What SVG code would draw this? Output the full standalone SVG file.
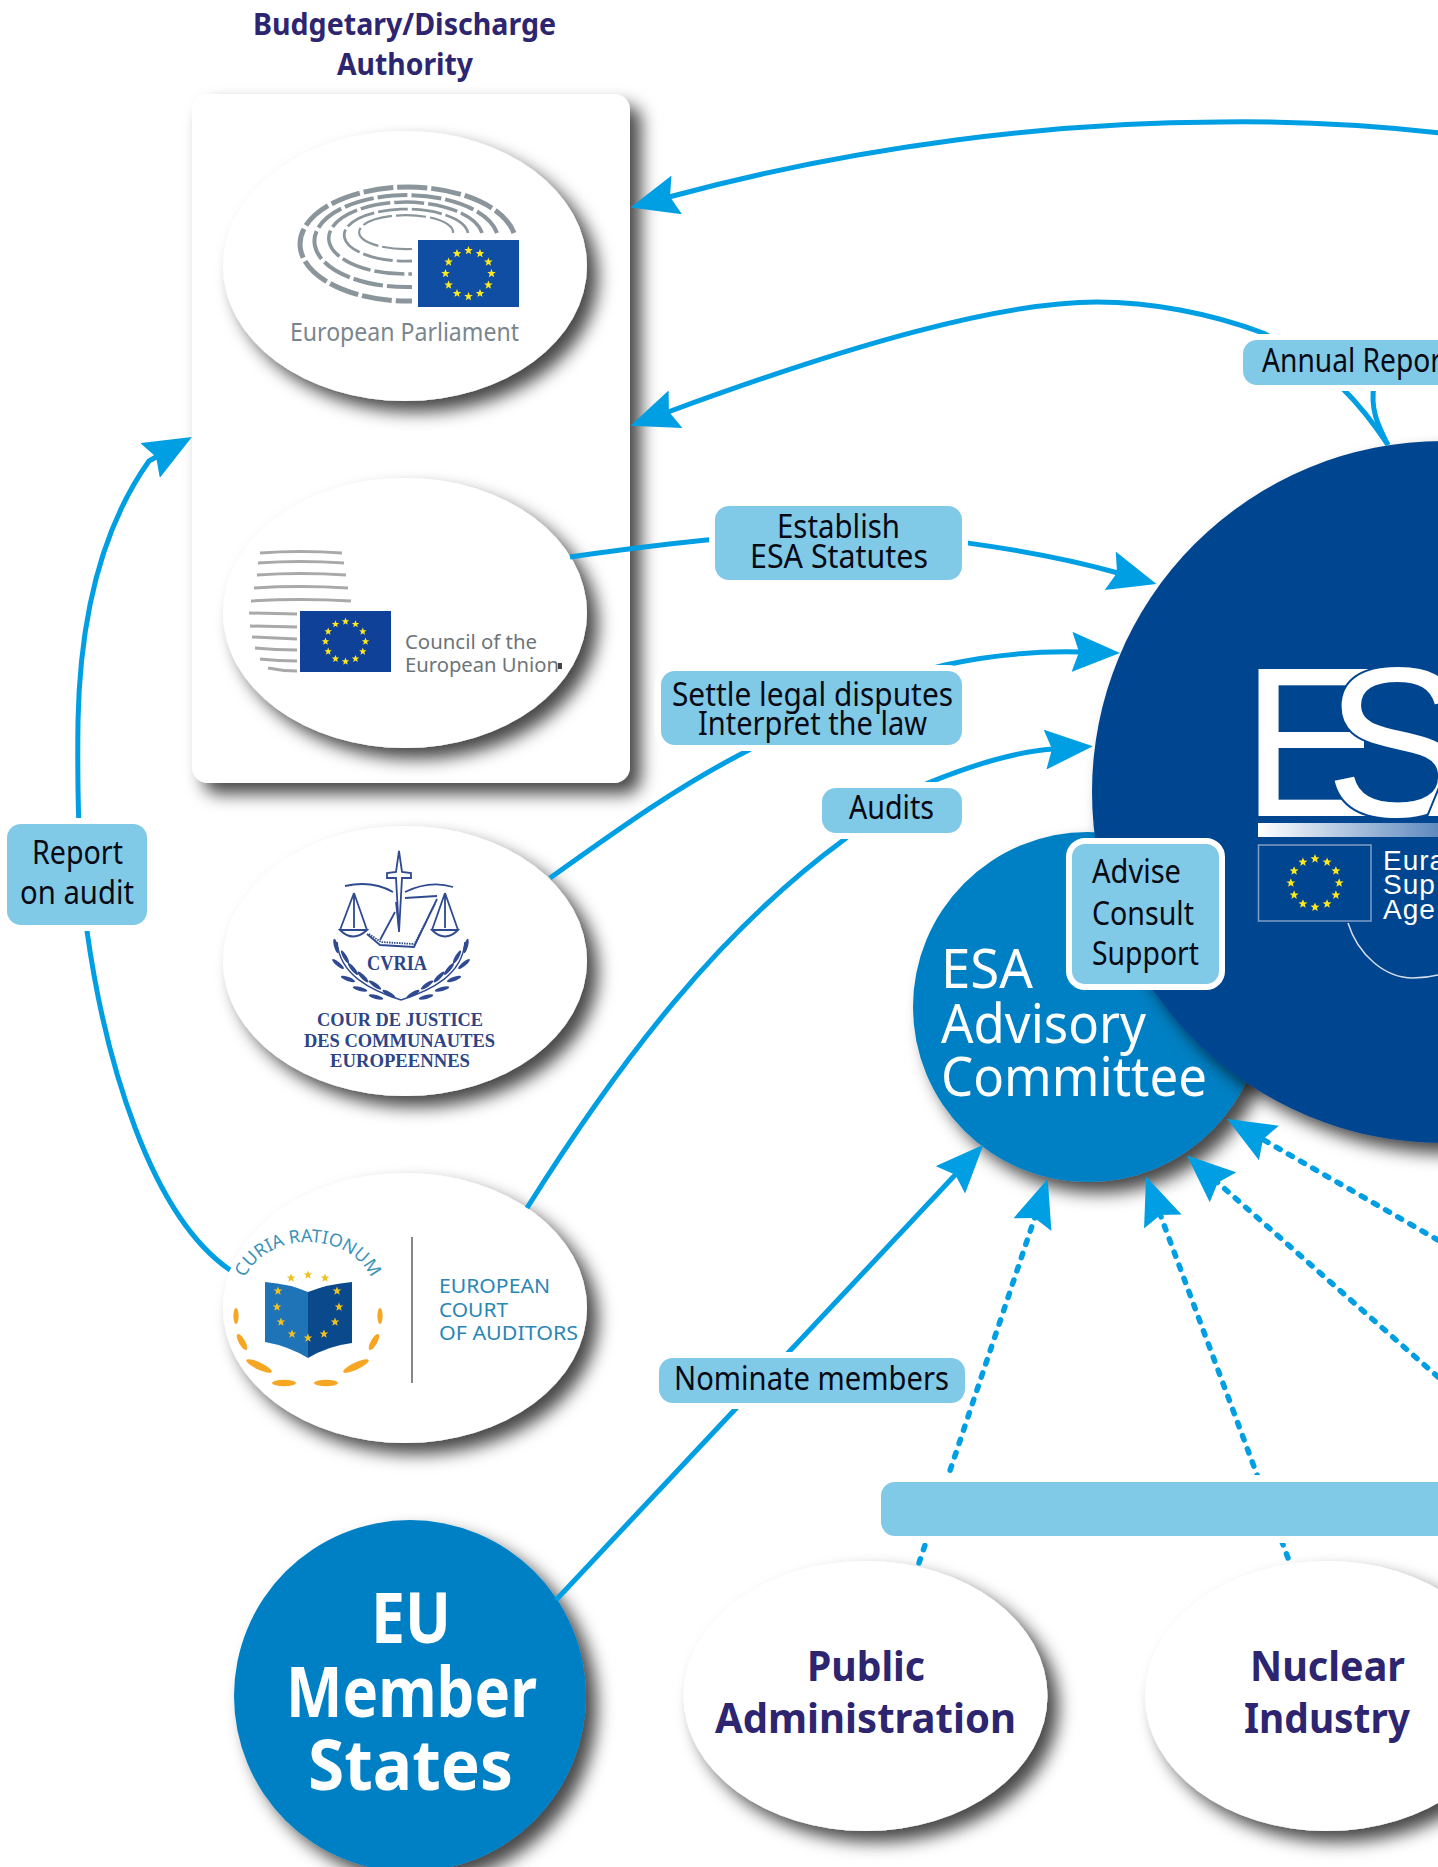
<svg xmlns="http://www.w3.org/2000/svg" xmlns:xlink="http://www.w3.org/1999/xlink" width="1438" height="1867" viewBox="0 0 1438 1867">
<style>
text{font-family:"Noto Sans","Open Sans",sans-serif}
.conn{fill:none;stroke:#009fe3;stroke-width:5}
.arr{marker-end:url(#head)}
.dot{stroke-dasharray:4.5 9.5;stroke-linecap:round;stroke-width:5.5}
.lab{fill:#80c9e7;stroke:#fff;stroke-width:12;paint-order:stroke}
.lt{font-size:32px;fill:#0a0a14}
.shadow{filter:url(#sh)}
.white{fill:#fff}
.navy{font-weight:700;fill:#2d2570}
.eu{font-size:70px;font-weight:700;fill:#fff}
.org{font-size:41px}
.adv{font-size:55px;fill:#fff}
.seat{fill:none;stroke:#8a969c;stroke-dasharray:30 4}
.stripe{fill:none;stroke:#a9a9a9;stroke-width:3}
.cj{font-family:"Liberation Serif",serif;font-weight:700;fill:#2d4486}
.cl{fill:none;stroke:#2f4a91;stroke-width:1.8}
.leaf{fill:#2f4a91}
.orange{fill:#f5a623}
.eca{font-size:20px;fill:#2a86b6}
.ly{fill:#ffe81e}
</style>
<defs>
<filter id="sh" x="-20%" y="-20%" width="140%" height="140%">
<feDropShadow dx="11" dy="11" stdDeviation="8.500" flood-color="#000" flood-opacity="0.72"/>
</filter>
<marker id="head" markerUnits="userSpaceOnUse" markerWidth="48" markerHeight="40" viewBox="0 0 48 40" refX="8" refY="20" orient="auto">
<path d="M48,20 L0,0 L7,20 L0,40 Z" fill="#009fe3"/>
</marker>
<linearGradient id="barg" x1="0" x2="1" y1="0" y2="0"><stop offset="0" stop-color="#fff"/><stop offset="1" stop-color="#5f8abf"/></linearGradient>
<polygon id="s" points="0,-4.500 1.200,-1.500 4.300,-1.400 1.800,.560 2.650,3.650 0,1.900 -2.650,3.650 -1.800,.560 -4.300,-1.400 -1.200,-1.500"/>
<g id="ring" class="ly">
<use href="#s" x="0" y="-23"/><use href="#s" x="11.500" y="-19.900"/><use href="#s" x="19.900" y="-11.500"/><use href="#s" x="23" y="0"/><use href="#s" x="19.900" y="11.500"/><use href="#s" x="11.500" y="19.900"/><use href="#s" x="0" y="23"/><use href="#s" x="-11.500" y="19.900"/><use href="#s" x="-19.900" y="11.500"/><use href="#s" x="-23" y="0"/><use href="#s" x="-19.900" y="-11.500"/><use href="#s" x="-11.500" y="-19.900"/>
</g>
<g id="laurel" class="leaf">
<ellipse cx="336" cy="946" rx="7.500" ry="2" transform="rotate(75 336 946)"/>
<ellipse cx="345" cy="957" rx="7.500" ry="2" transform="rotate(60 345 957)"/>
<ellipse cx="338" cy="964" rx="7.500" ry="2" transform="rotate(40 338 964)"/>
<ellipse cx="353" cy="969" rx="7.500" ry="2" transform="rotate(50 353 969)"/>
<ellipse cx="348" cy="979" rx="7.500" ry="2" transform="rotate(20 348 979)"/>
<ellipse cx="363" cy="977" rx="7.500" ry="2" transform="rotate(45 363 977)"/>
<ellipse cx="360" cy="989" rx="7.500" ry="2" transform="rotate(15 360 989)"/>
<ellipse cx="375" cy="985" rx="7.500" ry="2" transform="rotate(35 375 985)"/>
<ellipse cx="376" cy="997" rx="7.500" ry="2" transform="rotate(15 376 997)"/>
<ellipse cx="389" cy="994" rx="7.500" ry="2" transform="rotate(30 389 994)"/>
<path d="M337,942 C340,975 370,990 401,1000" fill="none" stroke="#2f4a91" stroke-width="1.500"/>
</g>
</defs>
<rect width="1438" height="1867" fill="#fff"/>

<g id="authority-title">
<text class="navy" x="253" y="35" font-size="30" textLength="303" lengthAdjust="spacingAndGlyphs">Budgetary/Discharge</text>
<text class="navy" x="337" y="75" font-size="30" textLength="136" lengthAdjust="spacingAndGlyphs">Authority</text>
</g>

<g id="authority-card"><rect class="white shadow" x="192" y="94" width="438" height="689" rx="16"/></g>

<g id="european-parliament">
<ellipse class="white shadow" cx="405" cy="266" rx="182" ry="135"/>
<path class="seat" stroke-width="5" d="M514,233 A108,57 0 1 0 412,301"/>
<path class="seat" stroke-width="4" d="M497,233 A92,46 0 1 0 412,287"/>
<path class="seat" stroke-width="3.500" d="M482,233 A77,36 0 1 0 412,274"/>
<path class="seat" stroke-width="2.800" d="M468,233 A62,26 0 1 0 412,261"/>
<path class="seat" stroke-width="2.200" d="M453,233 A47,17 0 1 0 412,249"/>
<rect x="418" y="240" width="101" height="67" fill="#0f4ea3"/>
<use href="#ring" transform="translate(468.500,273.500)"/>
<text x="290" y="341" font-size="26" fill="#7a868d" textLength="229" lengthAdjust="spacingAndGlyphs">European Parliament</text>
</g>

<g id="council">
<ellipse class="white shadow" cx="405" cy="613" rx="182" ry="135"/>
<path class="stripe" d="M260,553 Q300,550 342,553"/>
<path class="stripe" d="M258,563 Q300,560 344,563"/>
<path class="stripe" d="M257,575 Q300,572 346,575"/>
<path class="stripe" stroke-width="3.500" d="M254,588 Q300,585 348,588"/>
<path class="stripe" stroke-width="4" d="M251,601 Q300,598 351,601"/>
<path class="stripe" stroke-width="3.500" d="M249,613 L297,614"/>
<path class="stripe" stroke-width="3.500" d="M250,626 L297,627"/>
<path class="stripe" d="M252,637 L297,639"/>
<path class="stripe" d="M255,648 Q275,650 297,650"/>
<path class="stripe" stroke-width="2.500" d="M260,659 Q278,661 297,661"/>
<path class="stripe" stroke-width="2" d="M268,668 Q282,671 297,671"/>
<rect x="300" y="611" width="91" height="61" fill="#0f4198"/>
<use href="#ring" transform="translate(345.500,641.500) scale(.87)"/>
<text x="405" y="649" font-size="20" fill="#6d7478" textLength="132" lengthAdjust="spacingAndGlyphs">Council of the</text>
<text x="405" y="672" font-size="20" fill="#6d7478" textLength="154" lengthAdjust="spacingAndGlyphs">European Union</text>
<rect x="558" y="663" width="4" height="6" fill="#444"/>
</g>

<g id="court-of-justice">
<ellipse class="white shadow" cx="405" cy="961" rx="182" ry="135"/>
<path d="M399,851 L402,872 L411,873 L411,878 L402,878 L399,932 L396,878 L387,878 L387,873 L396,872 Z" fill="#fff" stroke="#2f4a91" stroke-width="1.800"/>
<path class="cl" stroke-width="2.400" d="M345,886 Q372,880 393,892 M405,892 Q430,880 453,887 M405,898 L437,896"/>
<path class="cl" d="M354,893 L340,930 M354,893 L367,930 M354,893 L354,928 M340,930 Q353,943 367,930 Z"/>
<path class="cl" d="M445,893 L432,930 M445,893 L458,930 M445,893 L445,928 M432,930 Q445,943 458,930 Z"/>
<path class="cl" d="M367,934 L380,945 L414,947 L437,899 M380,940 L395,912 M396,902 L399,930"/>
<path class="cl" stroke-width="4" stroke-dasharray="1.500 1" d="M414,945 L435,904 M369,934 L381,942 L414,944"/>
<use href="#laurel"/>
<use href="#laurel" transform="translate(802,0) scale(-1,1)"/>
<text class="cj" x="367" y="970" font-size="22" textLength="60" lengthAdjust="spacingAndGlyphs">CVRIA</text>
<text class="cj" x="317" y="1026" font-size="18" textLength="166" lengthAdjust="spacingAndGlyphs">COUR DE JUSTICE</text>
<text class="cj" x="304" y="1047" font-size="18" textLength="191" lengthAdjust="spacingAndGlyphs">DES COMMUNAUTES</text>
<text class="cj" x="330" y="1067" font-size="18" textLength="140" lengthAdjust="spacingAndGlyphs">EUROPEENNES</text>
</g>

<g id="court-of-auditors">
<ellipse class="white shadow" cx="405" cy="1308" rx="182" ry="135"/>
<path id="curia" d="M241,1296 A67,54 0 0 1 375,1296" fill="none"/>
<text font-size="18" fill="#3a92b8"><textPath href="#curia" startOffset="50%" text-anchor="middle">CURIA RATIONUM</textPath></text>
<path d="M265,1282 Q290,1284 308,1292 L308,1358 Q288,1346 265,1342 Z" fill="#1f74b8"/>
<path d="M352,1282 Q328,1284 308,1292 L308,1358 Q328,1346 352,1343 Z" fill="#0a4a8c"/>
<g fill="#f0c020">
<use href="#s" x="278" y="1291"/><use href="#s" x="277" y="1307"/><use href="#s" x="281" y="1322"/><use href="#s" x="292" y="1334"/><use href="#s" x="308" y="1338"/><use href="#s" x="324" y="1334"/><use href="#s" x="335" y="1322"/><use href="#s" x="339" y="1307"/><use href="#s" x="337" y="1291"/>
<use href="#s" x="291" y="1278"/><use href="#s" x="308" y="1275"/><use href="#s" x="325" y="1278"/>
</g>
<g class="orange">
<ellipse cx="236" cy="1316" rx="2.600" ry="8"/>
<ellipse cx="242" cy="1342" rx="9" ry="3.200" transform="rotate(60 242 1342)"/>
<ellipse cx="259" cy="1366" rx="14" ry="3.600" transform="rotate(25 259 1366)"/>
<ellipse cx="284" cy="1383" rx="12" ry="3.200"/>
<ellipse cx="326" cy="1383" rx="12" ry="3.200"/>
<ellipse cx="356" cy="1366" rx="14" ry="3.600" transform="rotate(-25 356 1366)"/>
<ellipse cx="374" cy="1342" rx="9" ry="3.200" transform="rotate(-60 374 1342)"/>
<ellipse cx="380" cy="1316" rx="2.600" ry="8"/>
</g>
<path d="M412,1237 L412,1383" stroke="#888" stroke-width="2"/>
<text class="eca" x="439" y="1293" textLength="111" lengthAdjust="spacingAndGlyphs">EUROPEAN</text>
<text class="eca" x="439" y="1317" textLength="69" lengthAdjust="spacingAndGlyphs">COURT</text>
<text class="eca" x="439" y="1340" textLength="139" lengthAdjust="spacingAndGlyphs">OF AUDITORS</text>
</g>

<g id="member-states">
<circle cx="410" cy="1696" r="176" fill="#0080c4" class="shadow"/>
<text class="eu" x="371" y="1643" textLength="80" lengthAdjust="spacingAndGlyphs">EU</text>
<text class="eu" x="286" y="1717" textLength="251" lengthAdjust="spacingAndGlyphs">Member</text>
<text class="eu" x="308" y="1790" textLength="205" lengthAdjust="spacingAndGlyphs">States</text>
</g>

<g id="public-administration">
<ellipse class="white shadow" cx="865.500" cy="1696" rx="182" ry="135"/>
<text class="navy org" x="807" y="1681" textLength="118" lengthAdjust="spacingAndGlyphs">Public</text>
<text class="navy org" x="715" y="1733" textLength="301" lengthAdjust="spacingAndGlyphs">Administration</text>
</g>
<g id="nuclear-industry">
<ellipse class="white shadow" cx="1327" cy="1696" rx="182" ry="135"/>
<text class="navy org" x="1250" y="1681" textLength="155" lengthAdjust="spacingAndGlyphs">Nuclear</text>
<text class="navy org" x="1244" y="1733" textLength="166" lengthAdjust="spacingAndGlyphs">Industry</text>
</g>

<g id="advisory-committee-circle"><circle cx="1088" cy="1007" r="175" fill="#0080c4" class="shadow"/></g>

<g id="esa">
<circle cx="1443" cy="792" r="351" fill="#00458f" class="shadow"/>
<text x="1241" y="816" font-size="214" fill="#fff" style="font-family:'Liberation Sans',sans-serif">E</text>
<text x="1325" y="816" font-size="214" fill="#fff" stroke="#00458f" stroke-width="4" paint-order="stroke" style="font-family:'Liberation Sans',sans-serif">S</text>
<text x="1428" y="816" font-size="214" fill="#fff" stroke="#00458f" stroke-width="4" paint-order="stroke" style="font-family:'Liberation Sans',sans-serif">A</text>
<rect x="1258" y="823" width="180" height="14" fill="url(#barg)"/>
<rect x="1258.500" y="845" width="112.500" height="76" fill="none" stroke="#7f9fc8" stroke-width="1.500"/>
<use href="#ring" transform="translate(1315,883) scale(1.05)"/>
<text x="1383" y="870" font-size="28" fill="#fff" letter-spacing="1" style="font-family:'Liberation Sans',sans-serif">Eura</text>
<text x="1383" y="894" font-size="28" fill="#fff" letter-spacing="1" style="font-family:'Liberation Sans',sans-serif">Sup</text>
<text x="1383" y="919" font-size="28" fill="#fff" letter-spacing="1" style="font-family:'Liberation Sans',sans-serif">Age</text>
<path d="M1348,923 C1358,955 1385,978 1413,978 C1422,978 1430,977 1438,975" fill="none" stroke="#d5deea" stroke-width="1.500"/>
</g>

<g id="advisory-committee-label">
<text class="adv" x="941" y="988" textLength="92" lengthAdjust="spacingAndGlyphs">ESA</text>
<text class="adv" x="941" y="1043" textLength="205" lengthAdjust="spacingAndGlyphs">Advisory</text>
<text class="adv" x="941" y="1096" textLength="266" lengthAdjust="spacingAndGlyphs">Committee</text>
</g>

<g id="connectors">
<path class="conn arr" d="M1440,133 C1360,124 1290,121 1220,122 C1060,122 860,145 669,197"/>
<path class="conn arr" d="M1388,445 C1365,410 1330,365 1263,333 C1210,313 1150,302 1097,302 C1000,302 850,345 668,412"/>
<path class="conn" d="M1388,445 C1378,425 1370,410 1374,385"/>
<path class="conn arr" d="M570,557 C640,547 760,532 840,532 C900,532 1030,548 1118,573"/>
<path class="conn arr" d="M550,878 C620,828 680,785 747,751 C810,715 880,680 945,665 C990,655 1035,651 1080,652"/>
<path class="conn arr" d="M527,1208 C620,1060 720,930 845,839 C870,815 900,795 928,783 C965,768 1010,752 1053,749"/>
<path class="conn arr" d="M230,1270 C150,1215 105,1060 87,931 C80,880 77,800 78,721 C80,620 100,530 149,461 L157,456.500"/>
<path class="conn arr" d="M556,1600 L956,1174"/>
<path class="conn arr dot" d="M919,1563 L1035,1217"/>
<path class="conn arr dot" d="M1288,1558 L1160,1214"/>
<path class="conn arr dot" d="M1438,1377 L1217,1182"/>
<path class="conn arr dot" d="M1438,1240 L1262,1139"/>
</g>

<g id="label-establish">
<rect class="lab" x="715" y="506" width="247" height="74" rx="14"/>
<text class="lt" x="777" y="538" textLength="123" lengthAdjust="spacingAndGlyphs">Establish</text>
<text class="lt" x="750" y="568" textLength="178" lengthAdjust="spacingAndGlyphs">ESA Statutes</text>
</g>
<g id="label-settle">
<rect class="lab" x="661" y="671" width="301" height="74" rx="14"/>
<text class="lt" x="672" y="706" textLength="281" lengthAdjust="spacingAndGlyphs">Settle legal disputes</text>
<text class="lt" x="698" y="735" textLength="229" lengthAdjust="spacingAndGlyphs">Interpret the law</text>
</g>
<g id="label-audits">
<rect class="lab" x="822" y="788" width="140" height="45" rx="14"/>
<text class="lt" x="849" y="819" textLength="85" lengthAdjust="spacingAndGlyphs">Audits</text>
</g>
<g id="label-report">
<rect class="lab" x="7" y="824" width="140" height="101" rx="14"/>
<text class="lt" x="32" y="864" textLength="91" lengthAdjust="spacingAndGlyphs">Report</text>
<text class="lt" x="20" y="904" textLength="114" lengthAdjust="spacingAndGlyphs">on audit</text>
</g>
<g id="label-nominate">
<rect class="lab" x="659" y="1358" width="306" height="45" rx="14"/>
<text class="lt" x="674" y="1390" textLength="275" lengthAdjust="spacingAndGlyphs">Nominate members</text>
</g>
<g id="label-annual">
<rect class="lab" x="1243" y="340" width="220" height="45" rx="14"/>
<text class="lt" x="1262" y="372" textLength="180" lengthAdjust="spacingAndGlyphs">Annual Repor</text>
</g>
<g id="stakeholder-bar">
<rect x="881" y="1482" width="600" height="54" rx="14" fill="#80c9e7" stroke="#fff" stroke-width="14" paint-order="stroke"/>
</g>
<g id="label-advise">
<rect x="1069" y="841" width="153" height="146" rx="16" fill="#80c9e7" stroke="#fff" stroke-width="6"/>
<text class="lt" x="1092" y="883" textLength="89" lengthAdjust="spacingAndGlyphs">Advise</text>
<text class="lt" x="1092" y="925" textLength="102" lengthAdjust="spacingAndGlyphs">Consult</text>
<text class="lt" x="1092" y="965" textLength="107" lengthAdjust="spacingAndGlyphs">Support</text>
</g>
</svg>
